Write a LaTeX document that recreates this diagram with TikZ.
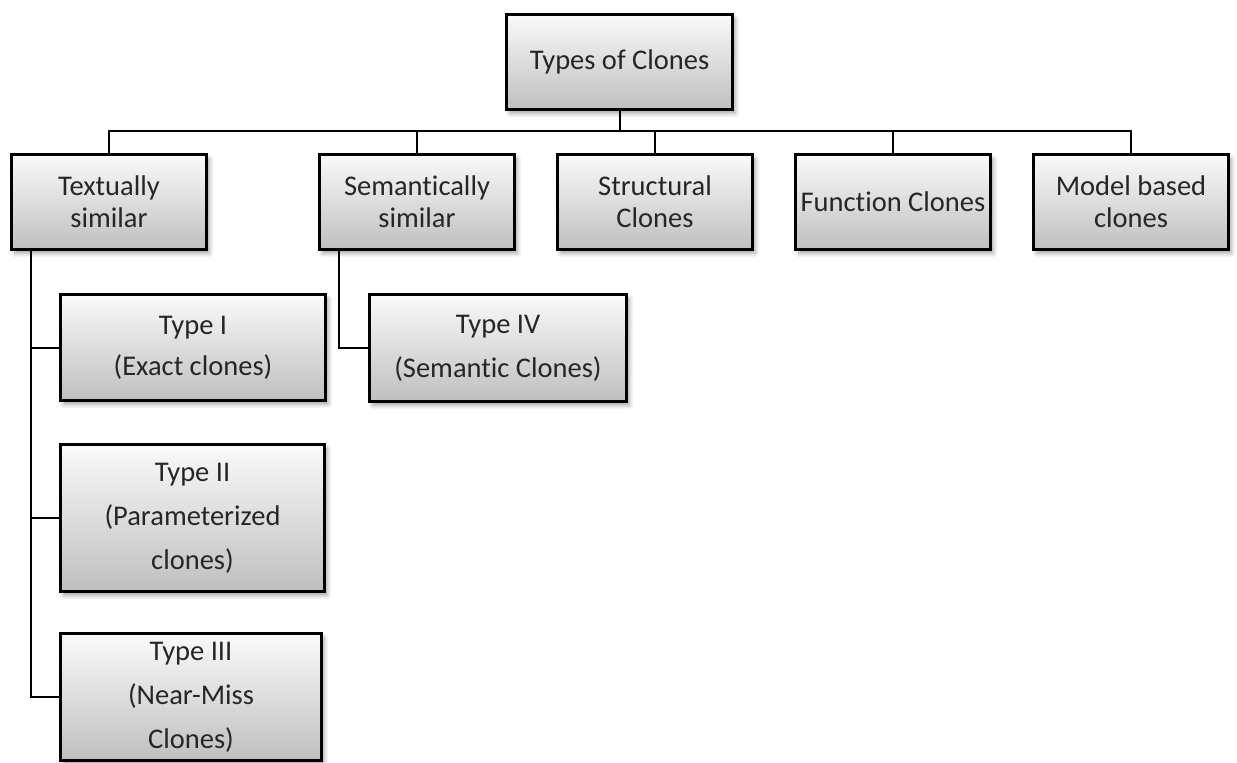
\documentclass[tikz,border=0pt]{standalone}
\usepackage{fontspec}
\setmainfont{Carlito}[Ligatures=NoCommon]
\usetikzlibrary{shadows.blur}
\begin{document}
\begin{tikzpicture}[x=1pt,y=-1pt,
  box/.style={draw=black, line width=3pt, top color=black!2, bottom color=black!25,
    inner sep=0pt, align=center, text=black!85, font=\fontsize{28.5}{32}\selectfont,
    blur shadow={shadow xshift=3pt, shadow yshift=-4pt, shadow blur steps=6,
      shadow opacity=35, shadow blur radius=4pt}},
  topbox/.style={box, minimum width=226pt, minimum height=95pt},
  catbox/.style={box, minimum width=195pt, minimum height=95pt},
  typebox/.style={box, font=\fontsize{28.5}{44}\selectfont},
  wire/.style={line width=2pt}]
\useasboundingbox (0,0) rectangle (1237,763);

% root
\node[topbox] (root) at (619.5,62) {Types of Clones};

% first level
\node[catbox] (tex) at (109,202) {Textually\\similar};
\node[catbox] (sem) at (417,202) {Semantically\\similar};
\node[catbox] (str) at (655,202) {Structural\\Clones};
\node[catbox] (fun) at (893,202) {Function Clones};
\node[catbox] (mod) at (1131,202) {Model based\\clones};

% clone types
\node[typebox, minimum width=265pt, minimum height=106pt, font=\fontsize{28.5}{41}\selectfont]
  (t1) at (193,347.5) {Type I\\(Exact clones)};
\node[typebox, minimum width=264pt, minimum height=147pt] (t2) at (192.5,518)
  {Type II\\(Parameterized\\clones)};
\node[typebox, minimum width=261pt, minimum height=127pt] (t3) at (191,697)
  {Type III\\(Near-Miss\\Clones)};
\node[typebox, minimum width=257pt, minimum height=107pt] (t4) at (498,348)
  {Type IV\\(Semantic Clones)};

% connector guides
\coordinate (bus) at (0,131);
\coordinate (tspine) at (31,0);
\coordinate (sspine) at (339,0);

% root to first level
\draw[wire] (root.south) -- (root.south |- bus) -| (tex.north);
\draw[wire] (root.south |- bus) -| (sem.north);
\draw[wire] (root.south |- bus) -| (str.north);
\draw[wire] (root.south |- bus) -| (fun.north);
\draw[wire] (root.south |- bus) -| (mod.north);

% textual branch
\draw[wire] (tex.south -| tspine) |- (t3.west);
\draw[wire] (tspine |- t1.west) -- (t1.west);
\draw[wire] (tspine |- t2.west) -- (t2.west);

% semantic branch
\draw[wire] (sem.south -| sspine) |- (t4.west);
\end{tikzpicture}
\end{document}
